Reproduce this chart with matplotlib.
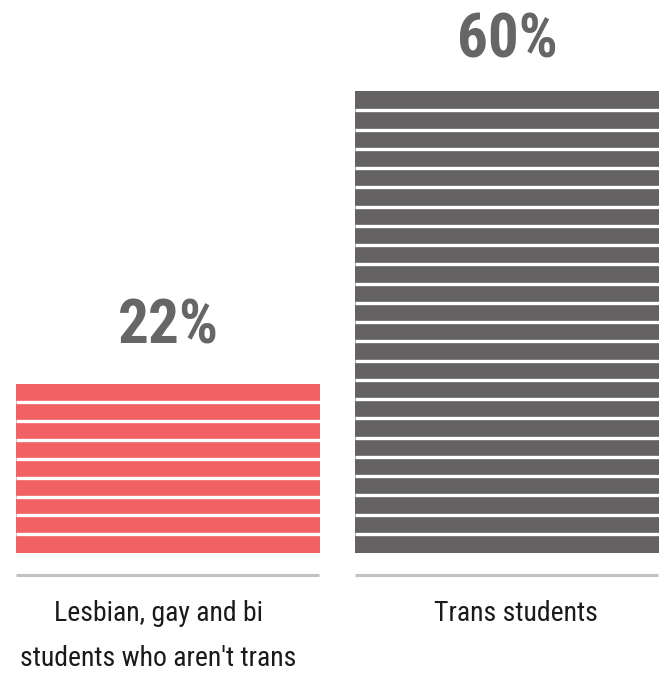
import math
import matplotlib
matplotlib.use("Agg")
import matplotlib.pyplot as plt
from matplotlib import font_manager

categories = ["Lesbian, gay and bi\nstudents who aren't trans", "Trans students"]
values = [22, 60]
value_labels = ["22%", "60%"]
colors = ["#f26265", "#646263"]
stripe_unit = 2.5

fl = font_manager.fontManager.ttflist
names = {f.name for f in fl}
stretch = "normal"
fam = None
for cand in ["Roboto Condensed", "Liberation Sans Narrow", "Open Sans Condensed",
             "Noto Sans Condensed"]:
    if cand in names:
        fam = [cand, "DejaVu Sans"]
        break
if fam is None:
    cond = [f for f in fl if f.name in ("Roboto", "Open Sans", "Noto Sans", "DejaVu Sans")
            and str(f.stretch) in ("condensed", "semi-condensed", "75", "87", "62")]
    if cond:
        fam = [cond[0].name, "DejaVu Sans"]
        stretch = "condensed"
    else:
        fam = ["Roboto", "DejaVu Sans"]

W, H = 664, 673
fig = plt.figure(figsize=(W / 100, H / 100), dpi=100)
fig.patch.set_facecolor("white")

px_per_unit = (553 - 91) / 60.0
ax = fig.add_axes([0, (H - 553) / H, 1, (553 - 91) / H])
ax.set_ylim(0, 60)
pitch = 339.0
ax.set_xlim(-168 / pitch, (W - 168) / pitch)
ax.axis("off")

width = 304 / pitch
xs = list(range(len(values)))
ax.bar(xs, values, width=width, color=colors, zorder=1)

for x, v in zip(xs, values):
    n = math.ceil(v / stripe_unit - 1e-9)
    step = v / n
    for k in range(1, n):
        ax.hlines(v - k * step, x - width / 2, x + width / 2, color="white",
                  linewidth=2.4, zorder=2)

base_y = -22 / px_per_unit
for x in xs:
    ax.plot([x - width / 2, x + width / 2 - 1 / pitch], [base_y, base_y],
            color="#c2c2c2", linewidth=2.2, solid_capstyle="butt",
            clip_on=False, zorder=3)

offs = [40, 34]
for x, v, lab, o in zip(xs, values, value_labels, offs):
    ax.annotate(lab, (x, v), xytext=(0, o), textcoords="offset pixels",
                ha="center", va="baseline", fontsize=44, fontweight="bold",
                fontstretch=stretch, color="#666666", family=fam,
                annotation_clip=False)

label_dx = [-10 / pitch, 9 / pitch]
for x, c, dx in zip(xs, categories, label_dx):
    ax.text(x + dx, -47 / px_per_unit, c, ha="center", va="top", fontsize=20,
            fontstretch=stretch, color="#1a1a1a", family=fam, linespacing=1.85)

fig.savefig("out.png", dpi=100, facecolor="white")
